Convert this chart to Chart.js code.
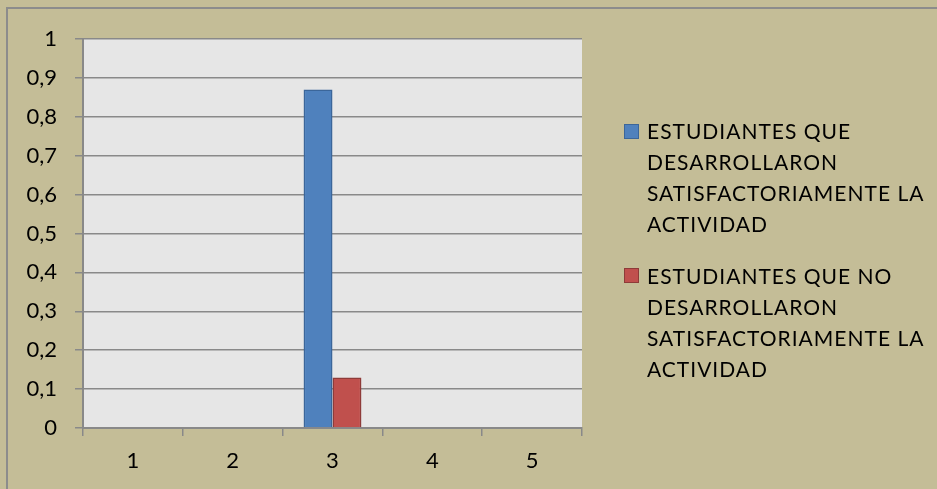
<!DOCTYPE html>
<html>
<head>
<meta charset="utf-8">
<script src="https://cdn.jsdelivr.net/npm/chart.js@4/dist/chart.umd.min.js"></script>
<style>
  html, body { margin: 0; padding: 0; background: #C4BD97; }
  #wrap { position: relative; width: 937px; height: 489px; overflow: hidden; }
  #c { position: absolute; left: 0; top: 0; }
  .leg { position: absolute; left: 624px; font-family: Lato, sans-serif; font-size: 21px; line-height: 31px; color: #000; letter-spacing: 1px; }
  .leg .box { position: absolute; left: 0; width: 13px; height: 13px; border: 1px solid; }
  .leg .txt { position: absolute; left: 23px; white-space: nowrap; }
</style>
</head>
<body>
<div id="wrap">
  <canvas id="c" width="937" height="489"></canvas>
  <div class="leg" id="leg1" style="top:115px">
    <div class="box" style="top:9px;background:#4F81BD;border-color:#3B669A"></div>
    <div class="txt">ESTUDIANTES QUE<br>DESARROLLARON<br>SATISFACTORIAMENTE LA<br>ACTIVIDAD</div>
  </div>
  <div class="leg" id="leg2" style="top:260px">
    <div class="box" style="top:8px;background:#C0504D;border-color:#8E3B39"></div>
    <div class="txt">ESTUDIANTES QUE NO<br>DESARROLLARON<br>SATISFACTORIAMENTE LA<br>ACTIVIDAD</div>
  </div>
</div>
<script>
const categories = ['1', '2', '3', '4', '5'];
const seriesNames = [
  'ESTUDIANTES QUE DESARROLLARON SATISFACTORIAMENTE LA ACTIVIDAD',
  'ESTUDIANTES QUE NO DESARROLLARON SATISFACTORIAMENTE LA ACTIVIDAD'
];
const satisfactorios = [null, null, 0.87, null, null];
const noSatisfactorios = [null, null, 0.13, null, null];
const yTickLabels = ['0', '0,1', '0,2', '0,3', '0,4', '0,5', '0,6', '0,7', '0,8', '0,9', '1'];

const GRID = '#898989';
Chart.defaults.font.family = 'Lato';
Chart.defaults.font.size = 22;
Chart.defaults.color = '#000';

const bgPlugin = {
  id: 'bg',
  beforeDraw(chart) {
    const ctx = chart.ctx;
    const a = chart.chartArea;
    ctx.save();
    ctx.fillStyle = '#C4BD97';
    ctx.fillRect(0, 0, chart.width, chart.height);
    ctx.strokeStyle = '#8C8C8C';
    ctx.lineWidth = 2;
    ctx.beginPath();
    ctx.moveTo(7, chart.height + 5);
    ctx.lineTo(7, 8);
    ctx.lineTo(chart.width + 5, 8);
    ctx.stroke();
    ctx.fillStyle = '#E6E6E6';
    ctx.fillRect(a.left, a.top, a.right - a.left, a.bottom - a.top);
    ctx.restore();
  }
};

new Chart(document.getElementById('c'), {
  type: 'bar',
  data: {
    labels: categories,
    datasets: [
      { label: seriesNames[0], data: satisfactorios, backgroundColor: '#4F81BD', borderColor: '#3B669A', borderWidth: 1.5 },
      { label: seriesNames[1], data: noSatisfactorios, backgroundColor: '#C0504D', borderColor: '#8E3B39', borderWidth: 1.5 }
    ]
  },
  options: {
    responsive: false,
    animation: false,
    devicePixelRatio: 1,
    layout: { padding: { left: 0, top: 39, right: 355, bottom: 0 } },
    datasets: { bar: { barPercentage: 1, categoryPercentage: 0.58 } },
    plugins: { legend: { display: false }, tooltip: { enabled: false } },
    scales: {
      x: {
        afterFit(s) { s.height = 61; },
        grid: { offset: true, drawOnChartArea: false, drawTicks: true, tickLength: 8, color: GRID, lineWidth: 1.5 },
        border: { display: true, color: GRID, width: 2 },
        ticks: { color: '#000', font: { family: 'Lato', size: 22 }, padding: 12 }
      },
      y: {
        min: 0, max: 1,
        afterFit(s) { s.width = 83; },
        grid: { drawTicks: true, tickLength: 8, color: GRID, lineWidth: 1.5 },
        border: { display: true, color: GRID, width: 2 },
        ticks: {
          stepSize: 0.1, color: '#000', font: { family: 'Lato', size: 22 }, padding: 18,
          callback: (v, i) => yTickLabels[i]
        }
      }
    }
  },
  plugins: [bgPlugin]
});
</script>
</body>
</html>
